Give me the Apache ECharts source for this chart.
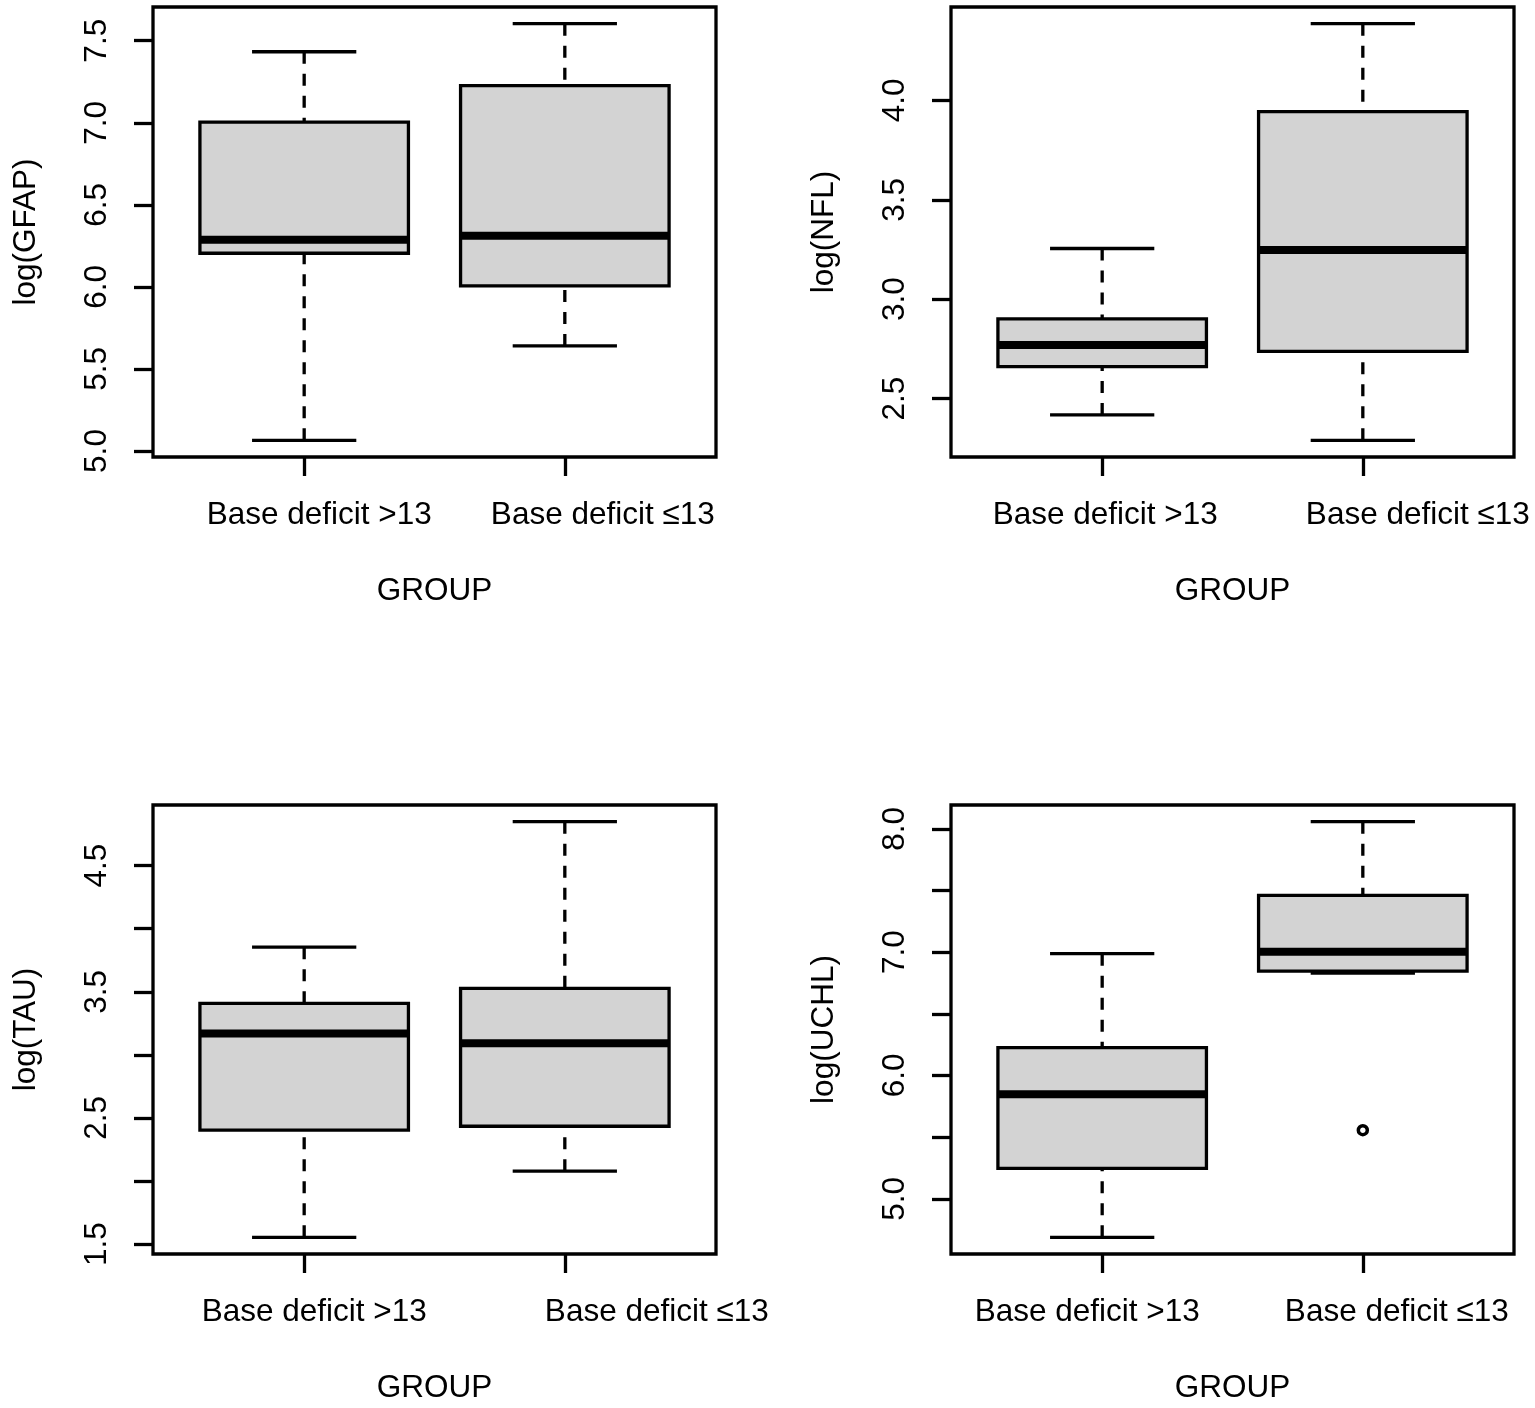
<!DOCTYPE html>
<html>
<head>
<meta charset="utf-8">
<script src="https://cdn.jsdelivr.net/npm/echarts@6/dist/echarts.min.js"></script>
<style>
  html, body { margin: 0; padding: 0; background: #fff; }
  #chart { width: 1535px; height: 1408px; }
</style>
</head>
<body>
<div id="chart"></div>
<script>
// ---- data ----
const groups = ['Base deficit >13', 'Base deficit \u226413'];
const groupPos = [1, 2];
// each row: [lower whisker, Q1, median, Q3, upper whisker]
const gfapStats = [[5.065, 6.205, 6.287, 7.004, 7.433], [5.640, 6.006, 6.311, 7.226, 7.604]];
const nflStats  = [[2.418, 2.661, 2.769, 2.901, 3.255], [2.290, 2.737, 3.247, 3.944, 4.386]];
const tauStats  = [[1.553, 2.403, 3.170, 3.408, 3.854], [2.078, 2.434, 3.091, 3.527, 4.849]];
const uchlStats = [[4.687, 5.246, 5.848, 6.226, 6.987], [6.830, 6.846, 7.003, 7.460, 8.058]];
const gfapOutliers = [];
const nflOutliers = [];
const tauOutliers = [];
const uchlOutliers = [[2, 5.556]];
const gfapTicks = [5.0, 5.5, 6.0, 6.5, 7.0, 7.5];
const gfapLabels = [5.0, 5.5, 6.0, 6.5, 7.0, 7.5];
const nflTicks = [2.5, 3.0, 3.5, 4.0];
const nflLabels = [2.5, 3.0, 3.5, 4.0];
const tauTicks = [1.5, 2.0, 2.5, 3.0, 3.5, 4.0, 4.5];
const tauLabels = [1.5, 2.5, 3.5, 4.5];
const uchlTicks = [5.0, 5.5, 6.0, 6.5, 7.0, 7.5, 8.0];
const uchlLabels = [5.0, 6.0, 7.0, 8.0];

// ---- styling / layout ----
const FONT = 'Liberation Sans, Arial, Helvetica, sans-serif';
const FS = 31.5;
const LW = 3.3;
const BOX_HALF = 0.4;
const STAPLE_HALF = 0.2;

const panels = [
  { stats: gfapStats, outliers: gfapOutliers, ticks: gfapTicks, labels: gfapLabels, name: 'log(GFAP)', left: 153, top: 7,   height: 450, shift: [15, 38] },
  { stats: nflStats,  outliers: nflOutliers,  ticks: nflTicks,  labels: nflLabels,  name: 'log(NFL)',  left: 951, top: 7,   height: 450, shift: [3, 55] },
  { stats: tauStats,  outliers: tauOutliers,  ticks: tauTicks,  labels: tauLabels,  name: 'log(TAU)',  left: 153, top: 805, height: 449, shift: [10, 92] },
  { stats: uchlStats, outliers: uchlOutliers, ticks: uchlTicks, labels: uchlLabels, name: 'log(UCHL)', left: 951, top: 805, height: 449, shift: [-15, 34] }
];

function renderBox(params, api) {
  const x = api.value(0);
  const lo = api.value(1), q1 = api.value(2), med = api.value(3), q3 = api.value(4), hi = api.value(5);
  const xl = api.coord([x - BOX_HALF, q1])[0];
  const xr = api.coord([x + BOX_HALF, q1])[0];
  const sl = api.coord([x - STAPLE_HALF, lo])[0];
  const sr = api.coord([x + STAPLE_HALF, lo])[0];
  const xc = api.coord([x, lo])[0];
  const yLo = api.coord([x, lo])[1];
  const yQ1 = api.coord([x, q1])[1];
  const yMed = api.coord([x, med])[1];
  const yQ3 = api.coord([x, q3])[1];
  const yHi = api.coord([x, hi])[1];
  const solid = { stroke: '#000', lineWidth: LW, lineCap: 'butt' };
  const dashed = { stroke: '#000', lineWidth: LW, lineDash: [12, 10], lineCap: 'butt' };
  return {
    type: 'group',
    children: [
      { type: 'rect', shape: { x: xl, y: yQ3, width: xr - xl, height: yQ1 - yQ3 },
        style: { fill: '#d3d3d3', stroke: '#000', lineWidth: LW } },
      { type: 'line', shape: { x1: xl, y1: yMed, x2: xr, y2: yMed },
        style: { stroke: '#000', lineWidth: 8, lineCap: 'butt' } },
      { type: 'line', shape: { x1: xc, y1: yLo, x2: xc, y2: yQ1 }, style: dashed },
      { type: 'line', shape: { x1: xc, y1: yHi, x2: xc, y2: yQ3 }, style: dashed },
      { type: 'line', shape: { x1: sl, y1: yLo, x2: sr, y2: yLo }, style: solid },
      { type: 'line', shape: { x1: sl, y1: yHi, x2: sr, y2: yHi }, style: solid }
    ]
  };
}

const grid = [], xAxis = [], yAxis = [], series = [];
panels.forEach((p, i) => {
  const vals = [];
  p.stats.forEach(s => { vals.push(s[0], s[4]); });
  p.outliers.forEach(o => vals.push(o[1]));
  const lo = Math.min(...vals), hi = Math.max(...vals);
  const pad = 0.04 * (hi - lo);

  grid.push({ left: p.left, top: p.top, width: 563, height: p.height, show: true,
    borderColor: '#000', borderWidth: LW, backgroundColor: 'transparent', containLabel: false });

  const rich = {};
  p.shift.forEach((s, k) => {
    rich['s' + k] = { fontSize: FS, fontFamily: FONT, color: '#000',
      padding: s >= 0 ? [0, 0, 0, 2 * s] : [0, -2 * s, 0, 0] };
  });

  xAxis.push({
    type: 'value', gridIndex: i, min: 0.42, max: 2.58,
    axisLine: { show: false }, splitLine: { show: false },
    axisTick: { show: true, customValues: groupPos, length: 19, lineStyle: { color: '#000', width: LW } },
    axisLabel: { show: true, customValues: groupPos, margin: 42, fontSize: FS, fontFamily: FONT, color: '#000',
      formatter: v => { const k = groupPos.indexOf(Math.round(v)); return '{s' + k + '|' + groups[k] + '}'; },
      rich: rich },
    name: 'GROUP', nameLocation: 'middle', nameGap: 118,
    nameTextStyle: { fontSize: FS, fontFamily: FONT, color: '#000' }
  });

  yAxis.push({
    type: 'value', gridIndex: i, min: lo - pad, max: hi + pad,
    axisLine: { show: false }, splitLine: { show: false },
    axisTick: { show: true, customValues: p.ticks, length: 19, lineStyle: { color: '#000', width: LW } },
    axisLabel: { show: true, customValues: p.labels, rotate: 90, margin: 40, fontSize: FS, fontFamily: FONT, color: '#000',
      formatter: v => Number(v).toFixed(1) },
    name: p.name, nameLocation: 'middle', nameGap: 111, nameRotate: 90,
    nameTextStyle: { fontSize: FS, fontFamily: FONT, color: '#000' }
  });

  series.push({
    type: 'custom', xAxisIndex: i, yAxisIndex: i,
    renderItem: renderBox,
    encode: { x: 0, y: [1, 2, 3, 4, 5] },
    data: p.stats.map((s, k) => [groupPos[k]].concat(s)),
    silent: true, animation: false
  });
  if (p.outliers.length) {
    series.push({
      type: 'scatter', xAxisIndex: i, yAxisIndex: i,
      data: p.outliers, symbol: 'circle', symbolSize: 9,
      itemStyle: { color: 'rgba(0,0,0,0)', borderColor: '#000', borderWidth: 3.5, opacity: 1 },
      silent: true, animation: false
    });
  }
});

const chart = echarts.init(document.getElementById('chart'), null, { renderer: 'canvas' });
chart.setOption({ backgroundColor: '#fff', animation: false, grid, xAxis, yAxis, series });
</script>
</body>
</html>
